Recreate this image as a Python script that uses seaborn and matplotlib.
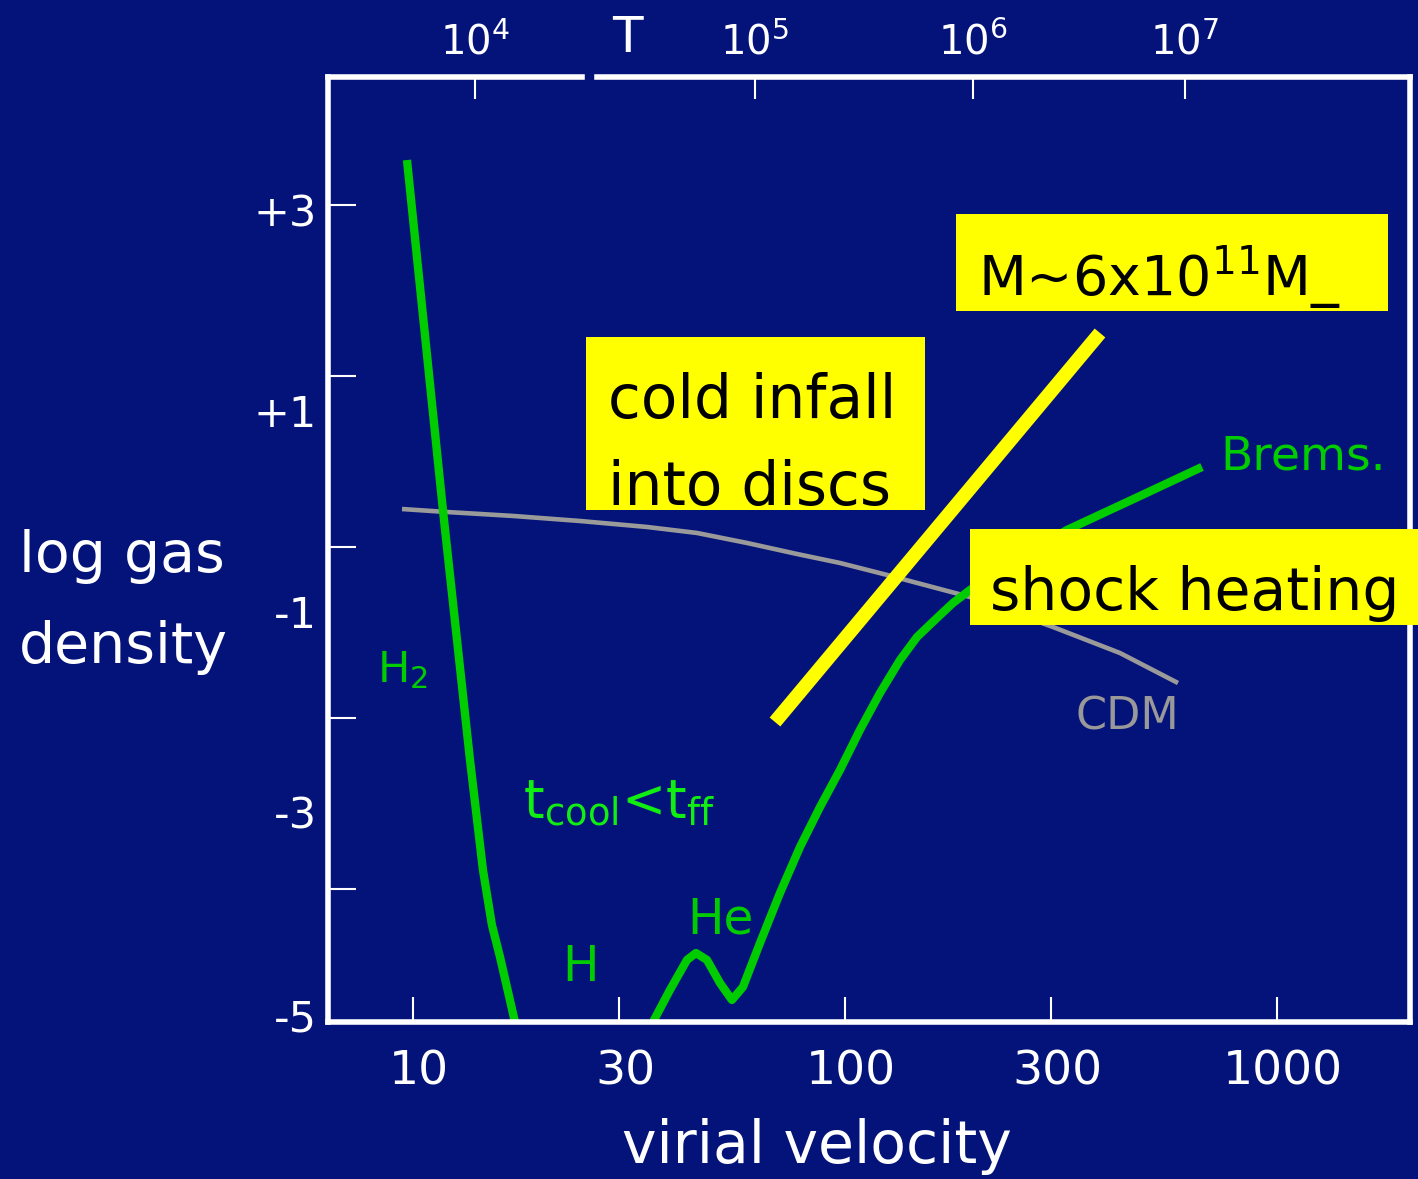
import matplotlib
matplotlib.use("Agg")
import matplotlib.pyplot as plt
import matplotlib.transforms as mtransforms
import seaborn as sns
import pandas as pd
from matplotlib.patches import Rectangle
from matplotlib.lines import Line2D
from matplotlib.ticker import NullLocator, FixedLocator, FixedFormatter, NullFormatter

# ---------------- data ----------------
h2_v = [9.685, 11.73, 13.55, 14.52, 15.23, 15.90, 17.22]
h2_logn = [3.526, -0.567, -3.491, -4.778, -5.421, -5.795, -6.556]

cool_v = [35.94, 39.34, 43.08, 45.19, 47.92, 51.35, 54.74, 58.05, 63.57, 70.72,
          78.68, 87.54, 97.37, 108.3, 120.5, 134.1, 146.8, 163.3, 177.8, 194.7,
          254.1, 326.6, 481.8, 670.6]
cool_logn = [-6.556, -6.181, -5.830, -5.749, -5.830, -6.099, -6.298, -6.146, -5.632, -5.047,
             -4.509, -4.041, -3.608, -3.140, -2.708, -2.322, -2.053, -1.830, -1.655, -1.503,
             -1.117, -0.801, -0.404, -0.064]

cdm_v = [9.431, 11.99, 17.04, 24.35, 34.81, 45.43, 59.32, 77.43, 97.37, 125.1,
         194.7, 303.0, 433.0, 590.0]
cdm_logn = [-0.556, -0.591, -0.637, -0.696, -0.766, -0.836, -0.953, -1.082, -1.187, -1.327,
            -1.585, -1.936, -2.240, -2.591]

mcrit_v = [68.86, 389.3]
mcrit_logn = [-3.047, 1.503]

v_ticks = [10, 30, 100, 300, 1000]
v_ticklabels = ["10", "30", "100", "300", "1000"]
dens_ticks = [3, 1, -1, -3, -5]
dens_ticklabels = ["+3", "+1", "-1", "-3", "-5"]
dens_label_pos = [2.94, 0.591, -1.749, -4.099, -6.474]
T_tick_v = [13.91, 61.90, 197.8, 612.5]
T_ticklabels = [r"$\mathregular{10^4}$", r"$\mathregular{10^5}$",
                r"$\mathregular{10^6}$", r"$\mathregular{10^7}$"]

# ---------------- style ----------------
BG = "#04137A"
GREEN = "#00CC00"
sns.set_style("white", {"axes.facecolor": BG, "figure.facecolor": BG})
plt.rcParams["font.family"] = ["DejaVu Sans"]
plt.rcParams["mathtext.fontset"] = "dejavusans"

W, H = 1418, 1179
fig = plt.figure(figsize=(W / 100, H / 100), dpi=100, facecolor=BG)
ax = fig.add_axes([328 / W, 1 - 1022 / H, (1410 - 328) / W, (1022 - 77) / H])
ax.set_facecolor(BG)

df_h2 = pd.DataFrame({"v": h2_v, "n": h2_logn})
df_cool = pd.DataFrame({"v": cool_v, "n": cool_logn})
df_cdm = pd.DataFrame({"v": cdm_v, "n": cdm_logn})
df_m = pd.DataFrame({"v": mcrit_v, "n": mcrit_logn})

common = dict(ax=ax, sort=False, estimator=None, legend=False)
sns.lineplot(data=df_cdm, x="v", y="n", color="#9A9A9A", linewidth=3.3,
             solid_capstyle="butt", solid_joinstyle="round", **common)
sns.lineplot(data=df_h2, x="v", y="n", color=GREEN, linewidth=6,
             solid_capstyle="butt", solid_joinstyle="round", **common)
sns.lineplot(data=df_cool, x="v", y="n", color=GREEN, linewidth=6,
             solid_capstyle="butt", solid_joinstyle="round", **common)
sns.lineplot(data=df_m, x="v", y="n", color="#FFFF00", linewidth=10,
             solid_capstyle="butt", **common)

ax.set_xscale("log")
ax.set_xlim(6.357, 2032)
ax.set_ylim(-6.556, 4.497)
ax.set_xlabel("")
ax.set_ylabel("")

# x ticks (bottom)
ax.xaxis.set_major_locator(FixedLocator(v_ticks))
ax.xaxis.set_major_formatter(FixedFormatter(v_ticklabels))
ax.xaxis.set_minor_locator(NullLocator())
ax.tick_params(axis="x", which="major", direction="in", length=18, width=1.5,
               colors="white", labelsize=34, pad=20, bottom=True, top=False)
shift = mtransforms.ScaledTranslation(6 / 100, 0, fig.dpi_scale_trans)
for lab in ax.get_xticklabels():
    lab.set_transform(lab.get_transform() + shift)

# y ticks: marks at major positions, labels at their drawn spots
ax.yaxis.set_major_locator(FixedLocator(dens_ticks))
ax.yaxis.set_major_formatter(NullFormatter())
ax.yaxis.set_minor_locator(FixedLocator(dens_label_pos))
ax.yaxis.set_minor_formatter(FixedFormatter(dens_ticklabels))
ax.tick_params(axis="y", which="major", direction="in", length=20, width=1.5,
               colors="white", left=True, right=False)
ax.tick_params(axis="y", which="minor", length=0, colors="white",
               labelsize=31, pad=8, left=True, right=False)

# top T axis
sec = ax.secondary_xaxis("top")
sec.xaxis.set_major_locator(FixedLocator(T_tick_v))
sec.xaxis.set_major_formatter(FixedFormatter(T_ticklabels))
sec.xaxis.set_minor_locator(NullLocator())
sec.tick_params(axis="x", direction="in", length=16, width=1.5, colors="white",
                labelsize=29, pad=10)
for s in sec.spines.values():
    s.set_visible(False)

# spines
for side in ["left", "bottom", "right"]:
    ax.spines[side].set_color("white")
    ax.spines[side].set_linewidth(4)
ax.spines["top"].set_visible(False)
for x0, x1 in [(0.0, 0.2348), (0.2486, 1.0)]:
    ax.add_line(Line2D([x0, x1], [1, 1], transform=ax.transAxes, color="white",
                       linewidth=4, clip_on=False, solid_capstyle="projecting"))


def ftxt(px, py, s, **kw):
    kw.setdefault("va", "baseline")
    return fig.text(px / W, 1 - py / H, s, **kw)


def fbox(x0, y0, x1, y1):
    fig.add_artist(Rectangle((x0 / W, 1 - y1 / H), (x1 - x0) / W, (y1 - y0) / H,
                             transform=fig.transFigure, facecolor="#FFFF00",
                             edgecolor="none", zorder=2))


# axis titles
ftxt(122, 572, "log gas", color="white", fontsize=41, ha="center")
ftxt(123, 663, "density", color="white", fontsize=41, ha="center")
ftxt(817, 1163, "virial velocity", color="white", fontsize=42, ha="center")
ftxt(627, 52, "T", color="white", fontsize=36, ha="center")

# curve labels
ftxt(377, 682, r"H$_\mathregular{2}$", color=GREEN, fontsize=31, ha="left")
ftxt(523, 817, r"t$_\mathregular{cool}$<t$_\mathregular{ff}$", color="#11EE11",
     fontsize=38, ha="left")
ftxt(687, 933, "He", color=GREEN, fontsize=35, ha="left")
ftxt(562, 981, "H", color=GREEN, fontsize=35, ha="left")
ftxt(1220, 470, "Brems.", color=GREEN, fontsize=34, ha="left")
ftxt(1075, 730, "CDM", color="#999999", fontsize=32, ha="left")

# yellow boxes
fbox(586, 337, 925, 510)
ftxt(608, 418, "cold infall", color="black", fontsize=43, ha="left", zorder=3)
ftxt(608, 505, "into discs", color="black", fontsize=43, ha="left", zorder=3)

fbox(956, 214, 1388, 311)
ftxt(978, 295, r"M~6x10$^\mathregular{11}$M_", color="black", fontsize=40,
     ha="left", zorder=3)

fbox(970, 529, 1418, 625)
ftxt(990, 610, "shock heating", color="black", fontsize=42, ha="left", zorder=3)

fig.savefig("out.png", dpi=100, facecolor=BG)
